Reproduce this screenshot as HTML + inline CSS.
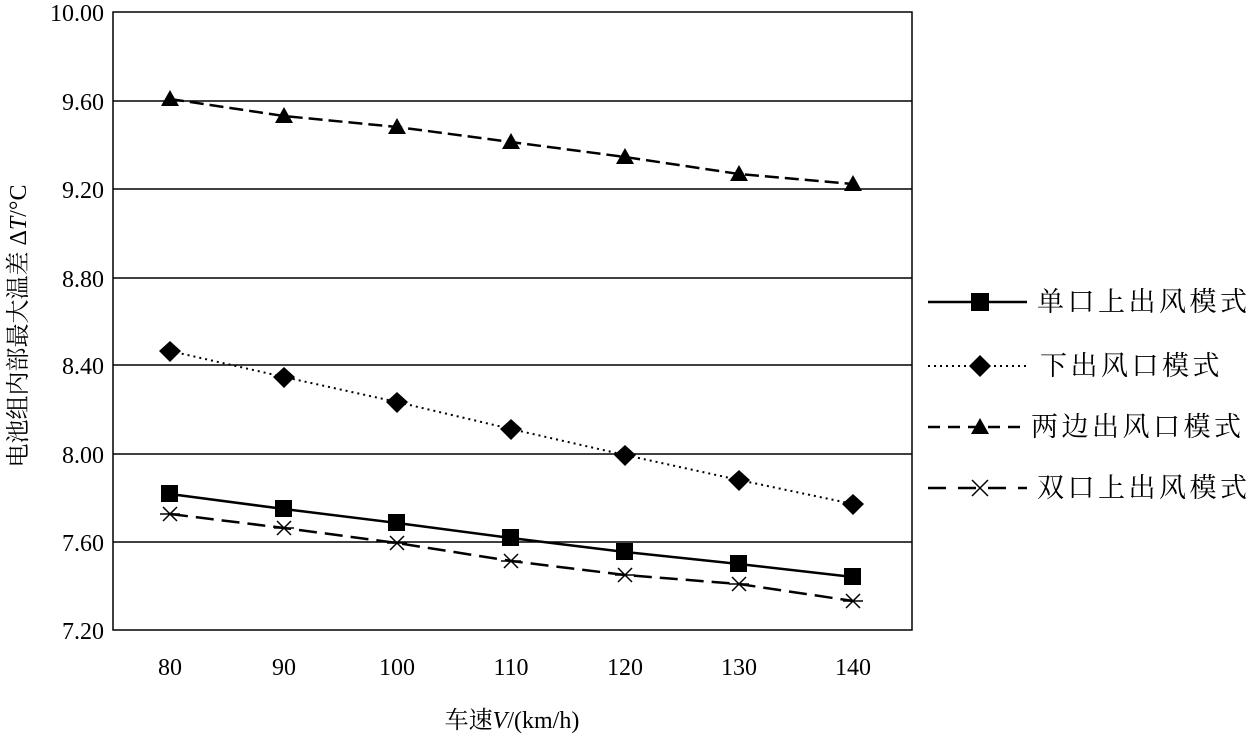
<!DOCTYPE html><html><head><meta charset="utf-8"><style>body{margin:0;background:#fff}svg{display:block}text{font-family:"Liberation Serif","Noto Serif CJK SC",serif;fill:#000}</style></head><body>
<svg width="1255" height="734" xmlns="http://www.w3.org/2000/svg">
<g stroke="#000" stroke-width="1.5" fill="none">
<rect x="113" y="12" width="799" height="618"/>
<line x1="113" y1="101" x2="912" y2="101"/><line x1="113" y1="189" x2="912" y2="189"/><line x1="113" y1="278" x2="912" y2="278"/><line x1="113" y1="365" x2="912" y2="365"/><line x1="113" y1="454" x2="912" y2="454"/><line x1="113" y1="542" x2="912" y2="542"/>
</g>
<g font-size="24" text-anchor="end">
<text x="104" y="21">10.00</text><text x="104" y="110">9.60</text><text x="104" y="198">9.20</text><text x="104" y="287">8.80</text><text x="104" y="374">8.40</text><text x="104" y="463">8.00</text><text x="104" y="551">7.60</text><text x="104" y="639">7.20</text></g>
<g font-size="24" text-anchor="middle">
<text x="170" y="675">80</text><text x="284" y="675">90</text><text x="397" y="675">100</text><text x="511" y="675">110</text><text x="625" y="675">120</text><text x="739" y="675">130</text><text x="853" y="675">140</text>
<text x="512" y="728">车速<tspan font-style="italic">V</tspan>/(km/h)</text>
<text transform="translate(26,326) rotate(-90)">电池组内部最大温差 Δ<tspan font-style="italic">T</tspan>/°C</text>
</g>
<g fill="none" stroke="#000" stroke-width="2.5">
<polyline stroke-dasharray="14,6" points="170,99 284,116 397,127 511,142 625,157 739,174 853,184"/>
<polyline stroke-width="2" stroke-dasharray="2,4" points="170,351 284,377 397,402 511,429 625,455 739,480 853,504"/>
<polyline points="170,494 284,509 397,523 511,538 625,552 739,564 853,577"/>
<polyline stroke-dasharray="18,8" points="170,514 284,528 397,543 511,561 625,575 739,584 853,601"/>
</g>
<g fill="#000">
<path d="M170,90 l9,16 h-18z"/><path d="M284,107 l9,16 h-18z"/><path d="M397,118 l9,16 h-18z"/><path d="M511,133 l9,16 h-18z"/><path d="M625,148 l9,16 h-18z"/><path d="M739,165 l9,16 h-18z"/><path d="M853,175 l9,16 h-18z"/>
<path d="M170,341l11,10-11,11-11-11z M284,367l11,10-11,11-11-11z M397,392l11,10-11,11-11-11z M511,419l11,10-11,11-11-11z M625,445l11,10-11,11-11-11z M739,470l11,10-11,11-11-11z M853,494l11,10-11,11-11-11z"/>
<rect x="161" y="485" width="17" height="17"/><rect x="275" y="500" width="17" height="17"/><rect x="388" y="514" width="17" height="17"/><rect x="502" y="529" width="17" height="17"/><rect x="616" y="543" width="17" height="17"/><rect x="730" y="555" width="17" height="17"/><rect x="844" y="568" width="17" height="17"/>
</g>
<g stroke="#000" stroke-width="1.5">
<path d="M163,507l14,14M177,507l-14,14M160,514h20 M277,521l14,14M291,521l-14,14M274,528h20 M390,536l14,14M404,536l-14,14M387,543h20 M504,554l14,14M518,554l-14,14M501,561h20 M618,568l14,14M632,568l-14,14M615,575h20 M732,577l14,14M746,577l-14,14M729,584h20 M846,594l14,14M860,594l-14,14M843,601h20"/>
</g>
<g stroke="#000" stroke-width="2.5" fill="none">
<line x1="928" y1="302" x2="1027" y2="302"/>
<line x1="928" y1="366" x2="1027" y2="366" stroke-width="2" stroke-dasharray="2,4"/>
<line x1="928" y1="427" x2="1027" y2="427" stroke-dasharray="12,8"/>
<line x1="928" y1="488" x2="1027" y2="488" stroke-dasharray="18,12"/>
</g>
<rect x="971" y="293" width="18" height="18"/>
<path d="M980,355l11,11-11,11-11-11z"/>
<path d="M980,418l9,16h-18z"/>
<path d="M972,480l16,16M988,480l-16,16" stroke="#000" stroke-width="1.5"/>
<g font-size="27" letter-spacing="3.5"><text x="1037" y="311">单口上出风模式</text><text x="1040" y="375">下出风口模式</text><text x="1031" y="436">两边出风口模式</text><text x="1037" y="497">双口上出风模式</text></g>
</svg></body></html>
